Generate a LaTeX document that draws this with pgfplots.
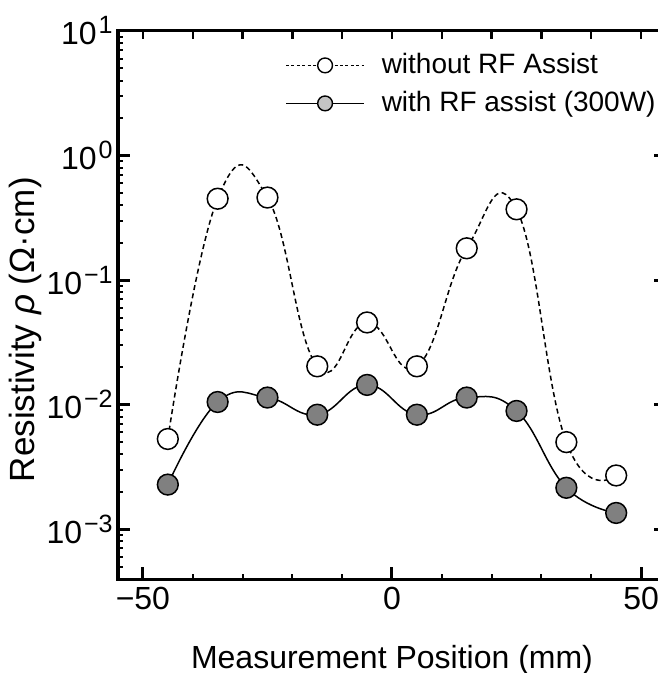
\documentclass[border=0pt]{standalone}
\usepackage{pgfplots}
\pgfplotsset{compat=1.18}
\usepackage{fontspec}
\setmainfont{Liberation Sans}
\newcommand{\tl}[1]{10\hspace{1pt}\raisebox{5.5pt}{\fontsize{12.5}{12.5}\selectfont #1}}
\definecolor{markgray}{HTML}{808080}
\definecolor{leggray}{HTML}{C4C4C4}

\pgfplotstableread{
x y
-45 0.0053
-35 0.45
-25 0.46
-15 0.0203
-5 0.0457
5 0.0203
15 0.18
25 0.37
35 0.0050
45 0.0027
}\without

\pgfplotstableread{
x y
-45 0.00228
-35 0.0105
-25 0.0114
-15 0.0083
-5 0.0144
5 0.0083
15 0.0114
25 0.0089
35 0.00215
45 0.00135
}\withrf

\begin{document}
\begin{tikzpicture}
% top ticks
\begin{axis}[scale only axis, width=274pt, height=274pt,
  xmin=-55, xmax=55, ymode=log, ymin=0.000398107, ymax=10,
  axis line style={line width=1.5pt}, tick align=inside,
  xtick={-50,-40,...,50}, xticklabels={}, xtick pos=right,
  ytick=\empty, minor ytick={},
  major tick length=4pt, every tick/.style={black, line width=1.2pt},
]
\end{axis}
% right ticks
\begin{axis}[scale only axis, width=274pt, height=274pt,
  xmin=-55, xmax=55, ymode=log, ymin=0.000398107, ymax=10,
  axis line style={line width=1.5pt}, tick align=inside,
  xtick=\empty, ytick={0.001,0.01,0.1,1,10}, yticklabels={}, ytick pos=right,
  minor ytick={},
  major tick length=6pt, every tick/.style={black, line width=1.5pt},
]
\end{axis}
\begin{axis}[scale only axis, width=274pt, height=274pt, name=main,
  xmin=-55, xmax=55, ymode=log, ymin=0.000398107, ymax=10,
  axis line style={line width=1.5pt}, tick align=inside,
  tick pos=left,
  xtick={-50,0,50}, xticklabels={\char"2212 50,0,50},
  minor xtick={-40,-30,-20,-10,10,20,30,40},
  ytick={0.001,0.01,0.1,1,10},
  yticklabels={\tl{\char"2212 3},\tl{\char"2212 2},\tl{\char"2212 1},\tl{0},\tl{1}},
  minor ytick={0.0004,0.0005,0.0006,0.0007,0.0008,0.0009,
    0.002,0.003,0.004,0.005,0.006,0.007,0.008,0.009,
    0.02,0.03,0.04,0.05,0.06,0.07,0.08,0.09,
    0.2,0.3,0.4,0.5,0.6,0.7,0.8,0.9,
    2,3,4,5,6,7,8,9},
  major tick length=6pt, minor tick length=2.5pt,
  major tick style={black, line width=1.5pt},
  minor tick style={black, line width=1pt},
  tick label style={font=\fontsize{16}{16}\selectfont},
  yticklabel style={inner xsep=2.5pt},
  xticklabel style={inner ysep=4pt},
  xlabel={Measurement Position (mm)},
  ylabel={Resistivity \textit{ρ} (Ω·cm)},
  every axis x label/.style={at={(axis description cs:0.5,0)}, anchor=base, yshift=-44.5pt, font=\fontsize{16}{16}\selectfont},
  every axis y label/.style={at={(axis description cs:-0.1697,0.455)}, rotate=90, anchor=center, font=\fontsize{17.5}{17.5}\selectfont},
  legend style={at={(axis description cs:0.3047,0.9635)}, anchor=north west,
    draw=none, fill=none, inner sep=0pt, font=\fontsize{14}{14}\selectfont,
    nodes={inner xsep=4pt, inner ysep=0pt, text height=11pt, text depth=3pt},
    row sep=5pt,
    /tikz/every odd column/.append style={column sep=4.5pt}},
  legend cell align=left,
  legend image code/.code={\draw[mark repeat=2,mark phase=2,#1] plot coordinates {(0pt,0pt) (19.5pt,0pt) (39pt,0pt)};},
]
\addplot[black, line width=0.75pt, dash pattern=on 2.5pt off 1.7pt, smooth, tension=0.78, forget plot] table[x=x,y=y] {\without};
\addplot[black, line width=0.75pt, smooth, tension=0.75, forget plot] table[x=x,y=y] {\withrf};
\addplot[only marks, mark=*, mark size=5.2pt, mark options={fill=white, draw=black, line width=0.75pt}, forget plot] table[x=x,y=y] {\without};
\addplot[only marks, mark=*, mark size=5.2pt, mark options={fill=markgray, draw=black, line width=0.75pt}, forget plot] table[x=x,y=y] {\withrf};
\addlegendimage{black, line width=0.7pt, dash pattern=on 1.5pt off 1.2pt, mark=*, mark size=3.7pt, mark options={solid, fill=white, draw=black, line width=0.7pt}}
\addlegendentry{without RF Assist}
\addlegendimage{black, line width=0.7pt, mark=*, mark size=3.7pt, mark options={solid, fill=leggray, draw=black, line width=0.7pt}}
\addlegendentry{with RF assist (300W)}
\end{axis}
\pgfresetboundingbox
\path[use as bounding box] ([shift={(-59pt,-47pt)}]main.south west) rectangle ([shift={(-4pt,15.5pt)}]main.north east);
\end{tikzpicture}
\end{document}
